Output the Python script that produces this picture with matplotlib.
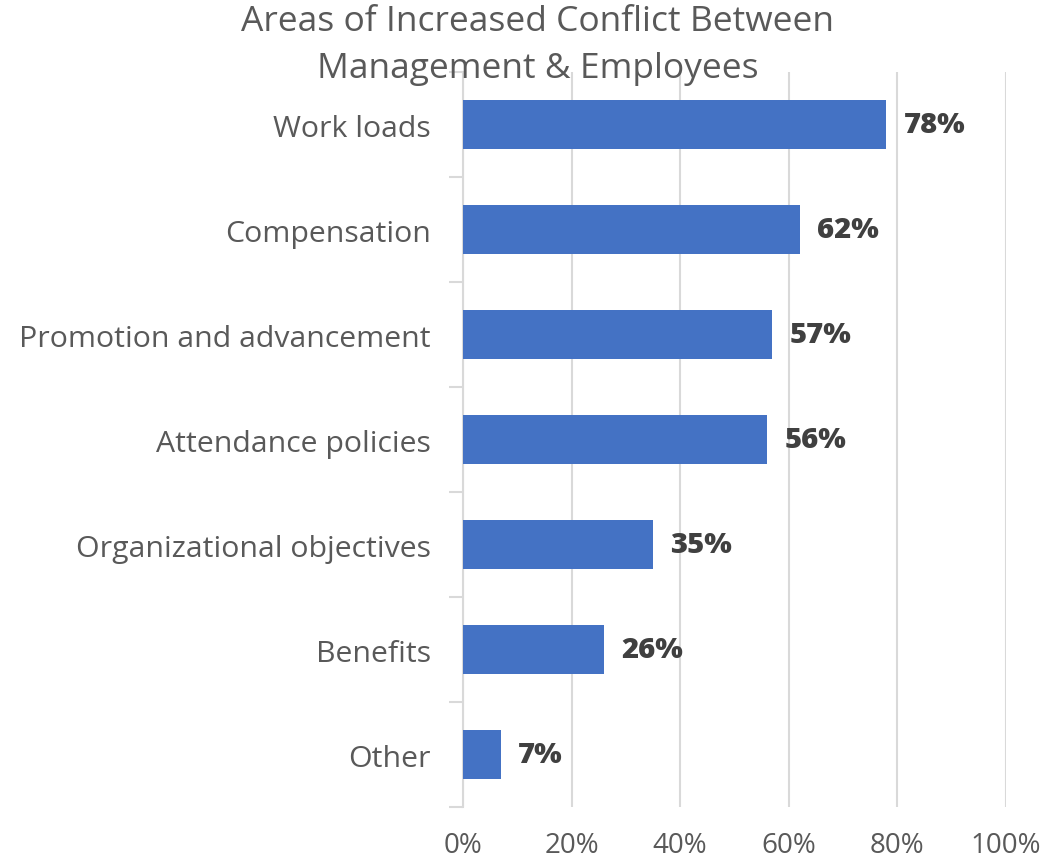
import matplotlib.pyplot as plt
import numpy as np

categories = ['Work loads', 'Compensation', 'Promotion and advancement',
              'Attendance policies', 'Organizational objectives', 'Benefits', 'Other']
values = [78, 62, 57, 56, 35, 26, 7]
xticks = [0, 20, 40, 60, 80, 100]

plt.rcParams['font.family'] = ['Open Sans', 'DejaVu Sans']
text_gray = '#595959'
bar_blue = '#4472C4'

fig = plt.figure(figsize=(10.56, 8.62), dpi=100)
ax = fig.add_axes([0.4384, 0.0626, 0.5142, 0.8527])

y = np.arange(len(categories))
ax.barh(y, values, height=0.47, color=bar_blue, zorder=3)

for yi, v in zip(y, values):
    ax.text(v + 3.2, yi, f'{v}%', va='center', ha='left', fontsize=21,
            fontweight='heavy', color='#404040', zorder=4)

ax.set_xlim(0, 100)
ax.set_ylim(len(categories) - 0.5, -0.5)
ax.set_xticks(xticks)
ax.set_xticklabels([f'{t}%' for t in xticks], fontsize=20, color=text_gray)
ax.tick_params(axis='x', length=0, pad=17)
ax.grid(axis='x', color='#d9d9d9', linewidth=1.5, zorder=0)

# category names sit between the boundary ticks on the y axis
ax.set_yticks(y)
ax.set_yticklabels(categories, fontsize=21.8, color=text_gray)
ax.tick_params(axis='y', which='major', length=0, pad=23)
ax.set_yticks(np.arange(len(categories) + 1) - 0.5, minor=True)
ax.tick_params(axis='y', which='minor', length=10, width=1.5, color='#d9d9d9')

for side in ['top', 'right', 'bottom']:
    ax.spines[side].set_visible(False)
ax.spines['left'].set_color('#d9d9d9')
ax.spines['left'].set_linewidth(1.5)

fig.text(0.509, 0.994, 'Areas of Increased Conflict Between\nManagement & Employees',
         ha='center', va='top', fontsize=25.5, color=text_gray, linespacing=1.5)

fig.savefig('out.png', dpi=100)
